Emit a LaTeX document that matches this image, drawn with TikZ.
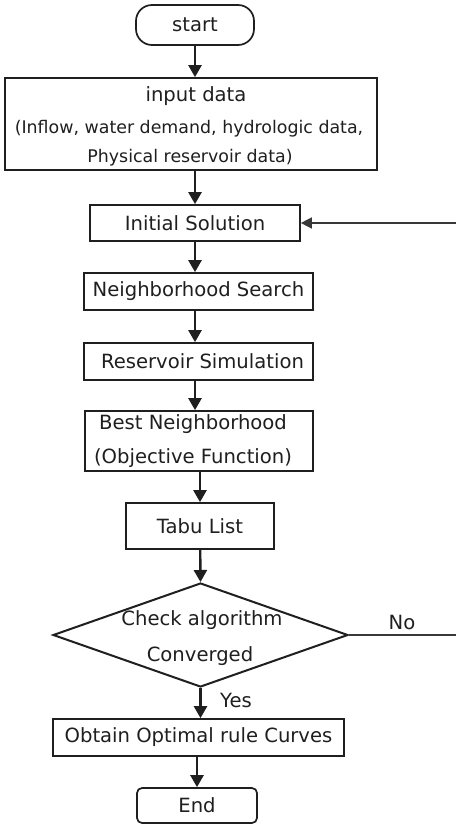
\documentclass[tikz,border=0pt]{standalone}
\usepackage{fontspec}
\setmainfont{DejaVu Sans}
\usetikzlibrary{arrows.meta,shapes.geometric}
\begin{document}
\begin{tikzpicture}[x=1pt,y=-1pt,
  every node/.style={inner sep=0pt, text=black!88},
  box/.style={draw=black!88, line width=1.7pt, rectangle, font=\fontsize{19.6}{22}\selectfont},
  term/.style={box, rounded corners=#1},
  decbox/.style={draw=black!88, line width=2pt, diamond, aspect=2.84},
  lbl/.style={font=\fontsize{19.6}{22}\selectfont},
  small/.style={font=\fontsize{17.4}{20}\selectfont},
  arr/.style={draw=black!88, line width=2.4pt, -{Triangle[length=12pt,width=13pt]}},
  fb/.style={draw=black!78, line width=1.5pt, -{Triangle[length=11pt,width=11pt]}}
]
\useasboundingbox[fill=white] (0,0) rectangle (455,826);

\node[term=16pt, minimum width=118pt, minimum height=40pt] (start) at (195,25) {start};
\node[box, minimum width=372pt, minimum height=92pt] (input) at (191,124) {};
\node[lbl] (inputt) at (196,96) {input data};
\node[small] (inputa) at (189,129) {(Inflow, water demand, hydrologic data,};
\node[small] (inputb) at (190,158) {Physical reservoir data)};
\node[box, minimum width=210pt, minimum height=36pt] (init) at (195,223) {Initial Solution};
\node[box, minimum width=229pt, minimum height=37pt] (ns) at (198.5,291.5) {Neighborhood Search};
\node[box, minimum width=229pt, minimum height=37pt] (rs) at (198.5,361.5) {\hspace{8pt}Reservoir Simulation};
\node[box, minimum width=228pt, minimum height=60pt] (bn) at (199,441) {};
\node[lbl] (bna) at (193,424) {Best Neighborhood};
\node[lbl] (bnb) at (193,458) {(Objective Function)};
\node[box, minimum width=148pt, minimum height=46pt] (tabu) at (200,526) {Tabu List};
\node[decbox, minimum width=295pt, minimum height=104pt] (dec) at (200.5,635) {};
\node[lbl] (deca) at (202,620) {Check algorithm};
\node[lbl] (decb) at (200,656) {Converged};
\node[box, minimum width=291pt, minimum height=37pt] (obt) at (198.5,737.5) {Obtain Optimal rule Curves};
\node[term=5pt, minimum width=120pt, minimum height=35pt] (end) at (197,805.5) {End};
\node[lbl] (yes) at (236,700) {Yes};
\node[lbl] (no) at (402,622) {No};

\draw[arr] (start) -- (start |- input.north);
\draw[arr] (init |- input.south) -- (init);
\draw[arr] (init) -- (init |- ns.north);
\draw[arr] (init |- ns.south) -- (init |- rs.north);
\draw[arr] (init |- rs.south) -- (init |- bn.north);
\draw[arr] (tabu |- bn.south) -- (tabu);
\draw[arr] (tabu) -- (dec.north);
\draw[arr] (dec.south) -- (dec |- obt.north);
\draw[arr] (end |- obt.south) -- (end);
\draw[fb] (dec.east) -- ++(112,0) |- (init.east);
\end{tikzpicture}
\end{document}
